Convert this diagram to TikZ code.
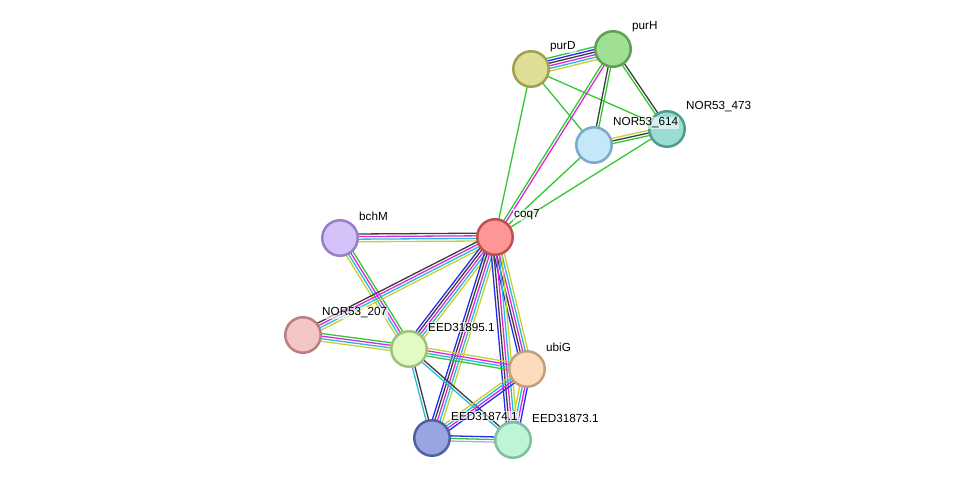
\documentclass[tikz,border=0pt]{standalone}
\usepackage{fontspec}
\setmainfont{Liberation Sans}
\usetikzlibrary{calc,backgrounds}
\definecolor{eG}{RGB}{50,200,50}
\definecolor{eB}{RGB}{40,40,245}
\definecolor{eK}{RGB}{60,60,60}
\definecolor{eM}{RGB}{220,40,220}
\definecolor{eC}{RGB}{40,185,220}
\definecolor{eY}{RGB}{195,210,50}
\definecolor{eL}{RGB}{170,170,235}
\tikzset{
  prot/.style={circle, minimum size=35.5pt, inner sep=0pt, line width=2.5pt},
  lbl/.style={anchor=west, font=\fontsize{11.7}{13}\selectfont, inner sep=1pt, fill=white, fill opacity=0.6, text opacity=1},
  edgeline/.style={line width=1.3pt}
}
\newcommand\medge[3]{%
  \foreach \cc [count=\ii] in {#3} {\xdef\nn{\ii}}%
  \foreach \cc [count=\ii] in {#3} {%
    \pgfmathsetmacro\off{(\ii-(\nn+1)/2)*2.6}%
    \draw[\cc, edgeline] ($(#1)!\off pt!90:(#2)$) -- ($(#2)!\off pt!-90:(#1)$);
  }%
}
\begin{document}
\begin{tikzpicture}[x=1pt,y=-1pt]
\useasboundingbox (0,0) rectangle (975,486);
% nodes
\node[prot, fill={rgb,255:red,222;green,222;blue,150}, draw={rgb,255:red,160;green,160;blue,80}] (purD) at (531,69) {};
\node[prot, fill={rgb,255:red,160;green,224;blue,148}, draw={rgb,255:red,96;green,160;blue,80}] (purH) at (613,49) {};
\node[prot, fill={rgb,255:red,153;green,221;blue,212}, draw={rgb,255:red,80;green,155;blue,140}] (n473) at (667,129) {};
\node[prot, fill={rgb,255:red,194;green,232;blue,250}, draw={rgb,255:red,128;green,168;blue,200}] (n614) at (594,145) {};
\node[prot, fill={rgb,255:red,255;green,150;blue,150}, draw={rgb,255:red,192;green,80;blue,80}] (coq7) at (495,237) {};
\node[prot, fill={rgb,255:red,212;green,194;blue,248}, draw={rgb,255:red,152;green,128;blue,200}] (bchM) at (340,238) {};
\node[prot, fill={rgb,255:red,245;green,198;blue,198}, draw={rgb,255:red,184;green,128;blue,128}] (n207) at (303,335) {};
\node[prot, fill={rgb,255:red,224;green,252;blue,194}, draw={rgb,255:red,160;green,192;blue,128}] (e95) at (409,349) {};
\node[prot, fill={rgb,255:red,253;green,220;blue,190}, draw={rgb,255:red,192;green,160;blue,128}] (ubiG) at (527,369) {};
\node[prot, fill={rgb,255:red,153;green,165;blue,224}, draw={rgb,255:red,80;green,96;blue,160}] (e74) at (432,438) {};
\node[prot, fill={rgb,255:red,190;green,245;blue,214}, draw={rgb,255:red,128;green,192;blue,160}] (e73) at (513,440) {};
% edges
\begin{pgfonlayer}{background}
\medge{purH}{purD}{eG,eB,eK,eM,eC,eY}
\medge{purD}{coq7}{eG}
\medge{purD}{n614}{eG}
\medge{purD}{n473}{eG}
\medge{purH}{n473}{eG,eK}
\medge{purH}{n614}{eK,eG}
\medge{purH}{coq7}{eG,eM}
\medge{n473}{n614}{eY,eK,eG}
\medge{n614}{coq7}{eG}
\medge{n473}{coq7}{eG}
\medge{coq7}{bchM}{eK,eM,eC,eY}
\medge{bchM}{e95}{eY,eC,eM,eG}
\medge{coq7}{n207}{eK,eM,eC,eY}
\medge{e95}{n207}{eG,eM,eC,eY}
\medge{coq7}{e95}{eB,eK,eM,eC,eY}
\medge{coq7}{e74}{eB,eK,eM,eC,eY}
\medge{coq7}{ubiG}{eB,eK,eM,eC,eY}
\medge{coq7}{e73}{eB,eK,eM,eC,eY}
\medge{ubiG}{e95}{eY,eM,eC,eG}
\medge{e95}{e74}{eC,eK}
\medge{e95}{e73}{eC,eK}
\medge{ubiG}{e74}{eY,eC,eM,eB}
\medge{ubiG}{e73}{eY,eC,eM,eB}
\medge{e73}{e74}{eB,eG,eL}
\end{pgfonlayer}
% labels
\node[lbl] (lpurD) at ($(purD)+(18,-22)$) {purD};
\node[lbl] (lpurH) at ($(purH)+(18,-22)$) {purH};
\node[lbl] (l473) at ($(n473)+(18,-22)$) {NOR53\_473};
\node[lbl] (l614) at ($(n614)+(18,-22)$) {NOR53\_614};
\node[lbl] (lcoq7) at ($(coq7)+(18,-22)$) {coq7};
\node[lbl] (lbchM) at ($(bchM)+(18,-22)$) {bchM};
\node[lbl] (l207) at ($(n207)+(18,-22)$) {NOR53\_207};
\node[lbl] (l95) at ($(e95)+(18,-22)$) {EED31895.1};
\node[lbl] (lubiG) at ($(ubiG)+(18,-22)$) {ubiG};
\node[lbl] (l74) at ($(e74)+(18,-22)$) {EED31874.1};
\node[lbl] (l73) at ($(e73)+(18,-22)$) {EED31873.1};
\end{tikzpicture}
\end{document}
